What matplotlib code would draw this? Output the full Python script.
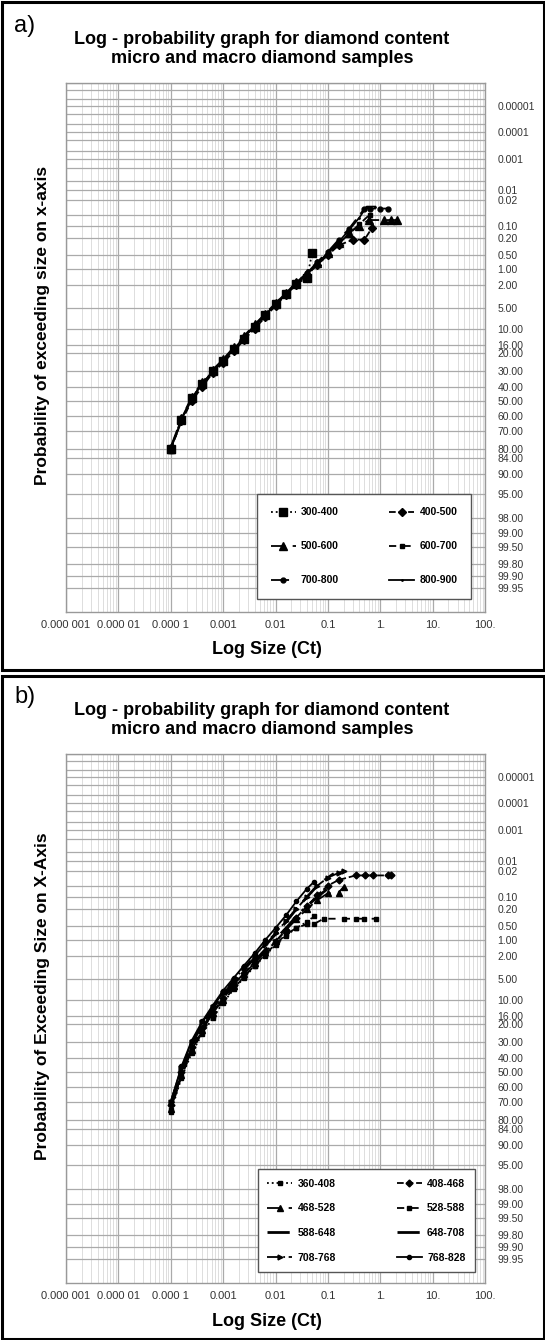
import numpy as np
import matplotlib
matplotlib.use("Agg")
import matplotlib.pyplot as plt
from matplotlib.patches import Rectangle
from matplotlib.ticker import FixedLocator, NullFormatter, LogLocator
from statistics import NormalDist

plt.rcParams['font.family'] = ['Liberation Sans', 'DejaVu Sans']

# ---- data: panel a (size in carats, probability of exceeding in %) ----
xa_base = [1e-4, 1.6e-4, 2.5e-4, 4e-4, 6.3e-4, 1e-3, 1.6e-3, 2.5e-3, 4e-3, 6.3e-3,
           0.01, 0.016, 0.025, 0.04]

a_300_x = xa_base + [0.05]
a_300_p = [80, 63, 48, 38, 30, 24, 18, 13.5, 9.5, 6.5, 4.3, 2.9, 1.9, 1.5, 0.45]

a_400_x = xa_base + [0.063, 0.1, 0.16, 0.3, 0.5, 0.7]
a_400_p = [80, 64, 50, 40, 31, 25, 19, 14, 10, 7, 4.6, 3.0, 2.0, 1.3, 0.8, 0.5, 0.3, 0.22, 0.22, 0.11]

a_500_x = xa_base + [0.063, 0.1, 0.16, 0.25, 0.4, 0.6, 1.2, 1.6, 2.1]
a_500_p = [80, 62, 47, 37, 29, 23, 17, 12.5, 8.8, 6.2, 4.2, 2.8, 1.8, 1.2, 0.75, 0.45,
           0.26, 0.15, 0.1, 0.07, 0.07, 0.07, 0.07]

a_600_x = xa_base + [0.063, 0.1, 0.16, 0.25, 0.4, 0.63]
a_600_p = [81, 63, 49, 39, 30, 24, 18, 13, 9.2, 6.4, 4.4, 2.9, 1.9, 1.25, 0.8, 0.5, 0.28,
           0.16, 0.09, 0.05]

a_700_x = xa_base + [0.063, 0.1, 0.16, 0.25, 0.5, 0.63, 1.0, 1.4]
a_700_p = [79, 62, 48, 38, 30, 23.5, 17.5, 13, 9, 6.3, 4.2, 2.8, 1.8, 1.2, 0.7, 0.42, 0.22,
           0.12, 0.034, 0.034, 0.034, 0.034]

a_800_x = xa_base + [0.063, 0.1, 0.16, 0.25, 0.4, 0.55, 0.8]
a_800_p = [80, 63, 48, 38, 30, 24, 18, 13, 9.3, 6.5, 4.4, 2.9, 1.9, 1.25, 0.78, 0.45, 0.25,
           0.13, 0.06, 0.03, 0.03]

labels_a = ['300-400', '400-500', '500-600', '600-700', '700-800', '800-900']

# ---- data: panel b ----
xb_base = [1e-4, 1.6e-4, 2.5e-4, 4e-4, 6.3e-4, 1e-3, 1.6e-3, 2.5e-3, 4e-3, 6.3e-3, 0.01]

b_360_x = xb_base + [0.016, 0.025, 0.04, 0.054]
b_360_p = [76, 54, 37, 25, 17, 11, 7.2, 4.8, 3.1, 2.0, 1.25, 0.8, 0.55, 0.4, 0.3]

b_408_x = xb_base + [0.016, 0.025, 0.04, 0.063, 0.1, 0.16, 0.34, 0.52, 0.72, 1.4, 1.6]
b_408_p = [72, 50, 33, 22, 14.5, 9.5, 6.2, 4.0, 2.6, 1.7, 1.1, 0.6, 0.32, 0.17, 0.09, 0.05,
           0.035, 0.026, 0.026, 0.026, 0.026, 0.026]

b_468_x = xb_base + [0.016, 0.025, 0.04, 0.063, 0.1, 0.16, 0.2]
b_468_p = [74, 52, 35, 23, 15, 10, 6.5, 4.2, 2.7, 1.7, 1.05, 0.6, 0.35, 0.2, 0.12, 0.08, 0.077,
           0.054]

b_528_x = xb_base + [0.016, 0.025, 0.04, 0.054, 0.083, 0.2, 0.34, 0.48, 0.82]
b_528_p = [75, 53, 36, 24, 16, 10.5, 7, 4.6, 3.0, 1.9, 1.2, 0.75, 0.55, 0.45, 0.45, 0.34,
           0.34, 0.34, 0.34, 0.34]

b_588_x = xb_base + [0.016, 0.025, 0.04, 0.063, 0.1, 0.13]
b_588_p = [71, 48, 31, 20, 13, 8.5, 5.5, 3.5, 2.2, 1.3, 0.75, 0.4, 0.2, 0.1, 0.05, 0.03, 0.023]

b_648_x = xb_base + [0.016, 0.025, 0.04, 0.063, 0.1]
b_648_p = [73, 51, 34, 22, 14.5, 9.5, 6.0, 3.9, 2.5, 1.55, 0.95, 0.55, 0.3, 0.17, 0.1, 0.06]

b_708_x = xb_base + [0.016, 0.025, 0.04, 0.063, 0.1, 0.16, 0.2]
b_708_p = [70, 47, 30, 19, 12.5, 8, 5.2, 3.3, 2.0, 1.2, 0.7, 0.38, 0.2, 0.1, 0.05, 0.03, 0.022,
           0.019]

b_768_x = xb_base + [0.016, 0.025, 0.04, 0.054]
b_768_p = [70, 46, 29, 18.5, 12, 7.5, 4.8, 3.0, 1.8, 1.0, 0.55, 0.28, 0.13, 0.06, 0.04]

labels_b = ['360-408', '408-468', '468-528', '528-588', '588-648', '648-708', '708-768', '768-828']

# ---- axis ticks ----
y_grid = [1e-6, 2e-6, 5e-6, 1e-5, 2e-5, 5e-5, 1e-4, 2e-4, 5e-4, 1e-3, 2e-3, 5e-3,
          0.01, 0.02, 0.05, 0.1, 0.2, 0.5, 1, 2, 5, 10, 16, 20, 30, 40, 50, 60, 70,
          80, 84, 90, 95, 98, 99, 99.5, 99.8, 99.9, 99.95]
y_ticks = [1e-5, 1e-4, 1e-3, 0.01, 0.02, 0.1, 0.2, 0.5, 1, 2, 5, 10, 16, 20, 30, 40, 50,
           60, 70, 80, 84, 90, 95, 98, 99, 99.5, 99.8, 99.9, 99.95]
y_ticklabels = ['0.00001', '0.0001', '0.001', '0.01', '0.02', '0.10', '0.20', '0.50', '1.00',
                '2.00', '5.00', '10.00', '16.00', '20.00', '30.00', '40.00', '50.00', '60.00',
                '70.00', '80.00', '84.00', '90.00', '95.00', '98.00', '99.00', '99.50',
                '99.80', '99.90', '99.95']
x_ticks = [1e-6, 1e-5, 1e-4, 1e-3, 1e-2, 1e-1, 1, 10, 100]
x_ticklabels = ['0.000 001', '0.000 01', '0.000 1', '0.001', '0.01', '0.1', '1.', '10.', '100.']

nd = NormalDist()


def fwd(p):
    p = np.clip(np.asarray(p, dtype=float) / 100.0, 1e-12, 1 - 1e-12)
    return np.vectorize(nd.inv_cdf, otypes=[float])(p)


def inv(z):
    z = np.asarray(z, dtype=float)
    return 100.0 * np.vectorize(nd.cdf, otypes=[float])(z)


W, H = 545, 1340
fig = plt.figure(figsize=(W / 100, H / 100), dpi=100)


def setup_axes(off):
    ax = fig.add_axes([66 / W, 1 - (612 + off) / H, 419 / W, 529 / H])
    ax.set_xscale('log')
    ax.set_yscale('function', functions=(fwd, inv))
    ax.set_xlim(1e-6, 100)
    ax.set_ylim(99.99, 1e-6)
    ax.xaxis.set_major_locator(FixedLocator(x_ticks))
    ax.set_xticklabels(x_ticklabels)
    ax.xaxis.set_minor_locator(LogLocator(base=10, subs=np.arange(2, 10), numticks=20))
    ax.xaxis.set_minor_formatter(NullFormatter())
    ax.yaxis.set_major_locator(FixedLocator(y_ticks))
    ax.set_yticklabels(y_ticklabels)
    ax.yaxis.set_minor_locator(FixedLocator([v for v in y_grid if v not in y_ticks]))
    ax.yaxis.set_minor_formatter(NullFormatter())
    ax.yaxis.tick_right()
    ax.tick_params(axis='both', which='both', length=0)
    ax.tick_params(axis='y', pad=9, labelsize=7.5, colors='#333333')
    ax.tick_params(axis='x', pad=6, labelsize=8, colors='#333333')
    ax.grid(True, axis='y', which='both', color='#aaaaaa', lw=0.9)
    ax.grid(True, axis='x', which='major', color='#aaaaaa', lw=0.9)
    ax.grid(True, axis='x', which='minor', color='#dddddd', lw=0.7)
    ax.set_axisbelow(True)
    for s in ax.spines.values():
        s.set_color('#999999')
        s.set_linewidth(1.0)
    return ax


title = 'Log - probability graph for diamond content\nmicro and macro diamond samples'

# ---------------- panel a ----------------
ax1 = setup_axes(0)
ax1.plot(a_300_x, a_300_p, color='black', ls=':', lw=1.3, marker='s', ms=5.5, label=labels_a[0])
ax1.plot(a_400_x, a_400_p, color='black', ls='--', lw=1.3, marker='D', ms=4, label=labels_a[1])
ax1.plot(a_500_x, a_500_p, color='black', ls=(0, (8, 4)), lw=1.3, marker='^', ms=5.5, label=labels_a[2])
ax1.plot(a_600_x, a_600_p, color='black', ls=(0, (4, 4)), lw=1.3, marker='s', ms=3, label=labels_a[3])
ax1.plot(a_700_x, a_700_p, color='black', ls=(0, (10, 4)), lw=1.3, marker='o', ms=3.5, label=labels_a[4])
ax1.plot(a_800_x, a_800_p, color='black', ls='-', lw=1.3, marker='.', ms=2, label=labels_a[5])

h, l = ax1.get_legend_handles_labels()
order = [0, 2, 4, 1, 3, 5]
ax1.legend([h[i] for i in order], [l[i] for i in order], ncol=2, loc='lower left',
           bbox_to_anchor=(0.444, 0.015, 0.535, 0.202), mode='expand',
           prop={'size': 7.5, 'weight': 'bold'}, fancybox=False, edgecolor='#555555',
           framealpha=1, labelspacing=2.3, handlelength=2.4, handletextpad=0.5,
           borderpad=1.3, columnspacing=2.0)

fig.text(14 / W, 1 - 26 / H, 'a)', fontsize=17, va='center', ha='left')
fig.text(262 / W, 1 - 49 / H, title, ha='center', va='center', fontsize=13,
         fontweight='bold', linespacing=1.08)
fig.text(267 / W, 1 - 650 / H, 'Log Size (Ct)', ha='center', va='center', fontsize=13, fontweight='bold')
fig.text(43 / W, 1 - 325 / H, 'Probability of exceeding size on x-axis', rotation=90,
         ha='center', va='center', fontsize=12.5, fontweight='bold')

# ---------------- panel b ----------------
off = 671
ax2 = setup_axes(off)
ax2.plot(b_360_x, b_360_p, color='black', ls=':', lw=1.3, marker='s', ms=3, label=labels_b[0])
ax2.plot(b_408_x, b_408_p, color='black', ls='--', lw=1.3, marker='D', ms=3.5, label=labels_b[1])
ax2.plot(b_468_x, b_468_p, color='black', ls=(0, (8, 4)), lw=1.3, marker='^', ms=5, label=labels_b[2])
ax2.plot(b_528_x, b_528_p, color='black', ls=(0, (4, 4)), lw=1.3, marker='s', ms=3, label=labels_b[3])
ax2.plot(b_588_x, b_588_p, color='black', ls=(0, (8, 3)), lw=2.0, label=labels_b[4])
ax2.plot(b_648_x, b_648_p, color='black', ls=(0, (8, 3, 1, 3)), lw=2.0, label=labels_b[5])
ax2.plot(b_708_x, b_708_p, color='black', ls=(0, (7, 2, 1, 2)), lw=1.3, marker='>', ms=3.5, label=labels_b[6])
ax2.plot(b_768_x, b_768_p, color='black', ls='-', lw=1.3, marker='o', ms=3, label=labels_b[7])

h, l = ax2.get_legend_handles_labels()
order = [0, 2, 4, 6, 1, 3, 5, 7]
ax2.legend([h[i] for i in order], [l[i] for i in order], ncol=2, loc='lower left',
           bbox_to_anchor=(0.446, 0.011, 0.542, 0.197), mode='expand',
           prop={'size': 7.5, 'weight': 'bold'}, fancybox=False, edgecolor='#555555',
           framealpha=1, labelspacing=1.4, handlelength=2.4, handletextpad=0.5,
           borderpad=0.9, columnspacing=2.0)

fig.text(14 / W, 1 - (26 + off) / H, 'b)', fontsize=17, va='center', ha='left')
fig.text(262 / W, 1 - (49 + off) / H, title, ha='center', va='center', fontsize=13,
         fontweight='bold', linespacing=1.08)
fig.text(267 / W, 1 - (650 + off) / H, 'Log Size (Ct)', ha='center', va='center', fontsize=13, fontweight='bold')
fig.text(43 / W, 1 - (325 + off) / H, 'Probability of Exceeding Size on X-Axis', rotation=90,
         ha='center', va='center', fontsize=12.5, fontweight='bold')

# panel frames
fig.add_artist(Rectangle((1.5 / W, 1 - 669.5 / H), 542 / W, 668 / H, transform=fig.transFigure,
                         fill=False, lw=2.2, edgecolor='black'))
fig.add_artist(Rectangle((1.5 / W, 1.5 / H), 542 / W, 663 / H, transform=fig.transFigure,
                         fill=False, lw=2.2, edgecolor='black'))

fig.savefig('out.png', dpi=100, facecolor='white')
